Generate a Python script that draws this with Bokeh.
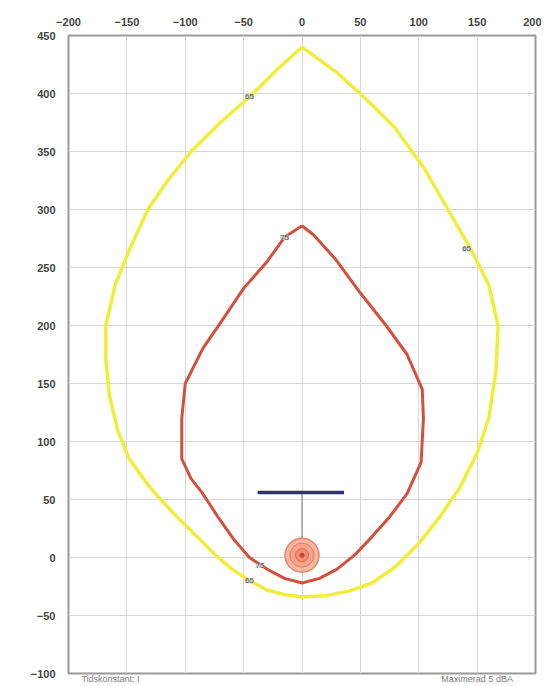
from bokeh.plotting import figure
from bokeh.models import FixedTicker, LinearAxis
from bokeh.core.properties import value
from bokeh.embed import file_html
from bokeh.resources import INLINE

# Contour 65 (yellow)
c65_x = [0, -20, -45, -70, -95, -115, -132, -148, -160, -168, -168, -165, -158, -148, -130, -110, -90, -75, -60, -45, -30, -15, 0, 20, 40, 60, 80, 100, 118, 135, 150, 160, 166, 168, 160, 145, 125, 105, 80, 55, 30, 0]
c65_y = [440, 422, 397, 375, 350, 325, 300, 265, 235, 200, 170, 140, 110, 85, 60, 38, 18, 3, -10, -20, -28, -32, -34, -33, -29, -22, -8, 12, 35, 60, 90, 120, 160, 200, 235, 265, 300, 335, 370, 395, 418, 440]

# Contour 75 (red)
c75_x = [0, -15, -30, -50, -68, -85, -100, -103, -103, -95, -85, -72, -58, -45, -30, -15, 0, 15, 30, 45, 60, 75, 90, 102, 104, 103, 90, 72, 50, 28, 10, 0]
c75_y = [286, 276, 255, 232, 205, 180, 150, 120, 85, 68, 55, 35, 15, 0, -10, -18, -22, -18, -10, 2, 18, 35, 55, 82, 120, 145, 175, 200, 228, 258, 278, 286]

# Contour labels
lab_x = [-45, 141, -45, -15, -36]
lab_y = [397, 266, -20, 276, -7]
lab_t = ["65", "65", "65", "75", "75"]

# Barrier (blue) and source
barrier_x = [-38, 36]
barrier_y = [56, 56]
stem_x = [0, 0]
stem_y = [56, 14]
src_x = [0]
src_y = [2]

x_ticks = [-200, -150, -100, -50, 0, 50, 100, 150, 200]
y_ticks = [-100, -50, 0, 50, 100, 150, 200, 250, 300, 350, 400, 450]

# Footer notes (placed under the frame)
note_pos = [-164, 150]
note_text = ["Tidskonstant: I", "Maximerad 5 dBA"]

p = figure(width=541, height=686, x_range=(-200, 200), y_range=(-100, 450),
           x_axis_location="above", output_backend="svg", toolbar_location=None,
           min_border_left=68, min_border_right=6, min_border_top=35, min_border_bottom=0)

p.xaxis.ticker = FixedTicker(ticks=x_ticks)
p.yaxis.ticker = FixedTicker(ticks=y_ticks)
for ax in (p.xaxis, p.yaxis):
    ax.major_tick_line_color = None
    ax.minor_tick_line_color = None
    ax.axis_line_color = None
    ax.major_label_text_font = "Liberation Sans"
    ax.major_label_text_font_size = "11px"
    ax.major_label_text_color = "#444444"
    ax.major_label_text_font_style = "bold"
p.xaxis.major_label_standoff = 4
p.yaxis.major_label_standoff = 7

notes = LinearAxis(ticker=FixedTicker(ticks=note_pos),
                   major_label_overrides={note_pos[0]: note_text[0], note_pos[1]: note_text[1]},
                   major_tick_line_color=None, minor_tick_line_color=None, axis_line_color=None,
                   major_tick_out=0, major_tick_in=0,
                   major_label_text_font="Liberation Sans", major_label_text_font_size="9px",
                   major_label_text_color="#808080", major_label_standoff=0)
p.add_layout(notes, "below")

p.grid.grid_line_color = "#d8d8d8"
p.grid.grid_line_width = 1
p.outline_line_color = "#999999"
p.outline_line_width = 2
p.background_fill_color = "white"

p.line(c65_x, c65_y, line_color="#f0ee3a", line_width=3.5)
p.line(c75_x, c75_y, line_color="#d4503e", line_width=3)

p.line(stem_x, stem_y, line_color="#777777", line_width=1)
p.line(barrier_x, barrier_y, line_color="#303080", line_width=3.5)

p.scatter(src_x, src_y, size=34, fill_color="#f7b7a0", line_color="#e8856a", line_width=1.5)
p.scatter(src_x, src_y, size=24, fill_color="#f5a489", line_color="#e27a60", line_width=1)
p.scatter(src_x, src_y, size=13, fill_color="#f08f74", line_color="#d86a50", line_width=1)
p.scatter(src_x, src_y, size=5, fill_color="#c04a35", line_color=None)

p.text(lab_x, lab_y, text=lab_t, text_font=value("Liberation Sans"), text_font_size="8px",
       text_color="#555555", text_align="center", text_baseline="middle",
       background_fill_color="#cfcfcf", background_fill_alpha=0.8)

open("out.html", "w").write(file_html(p, INLINE))
